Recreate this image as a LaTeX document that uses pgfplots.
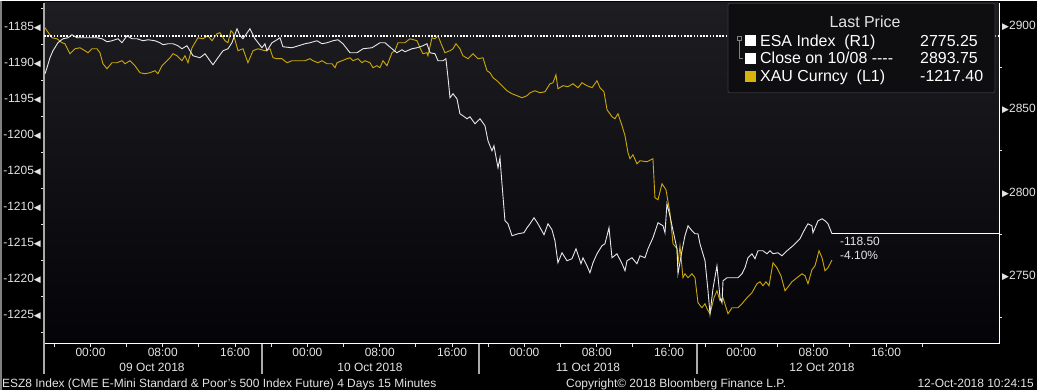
\documentclass[border=0pt]{standalone}
\usepackage{pgfplots}
\pgfplotsset{compat=1.18}
\usepackage{fontspec}
\setmainfont{Liberation Sans}
\newfontfamily\sym{DejaVu Sans}
\definecolor{gold}{RGB}{204,168,10}
\definecolor{goldsq}{RGB}{214,180,12}
\definecolor{esa}{RGB}{232,232,232}
\definecolor{bgtop}{RGB}{30,30,34}
\definecolor{bgbot}{RGB}{4,4,8}
\definecolor{txt}{RGB}{228,228,228}
\definecolor{legbg}{RGB}{14,14,17}
\definecolor{legline}{RGB}{55,55,60}
\definecolor{sep}{RGB}{170,170,170}
\newcommand{\ltri}{{\sym\fontsize{9}{9}\selectfont ◀}}
\newcommand{\rtri}{{\sym\fontsize{9}{9}\selectfont ▶}}
\begin{document}
\begin{tikzpicture}[font=\fontsize{12}{14}\selectfont]
\fill[black] (0,0) rectangle (1037bp,-389bp);
\draw[gray, line width=1.5bp] (0.75bp,0) -- (0.75bp,-389bp);
\begin{axis}[
  at={(44bp,-2bp)}, anchor=north west,
  scale only axis, width=955bp, height=341bp,
  xmin=-5.14, xmax=100.5, ymin=-1229.03, ymax=-1181.67,
  axis x line*=bottom, axis y line*=left,
  x axis line style={-, draw=white, line width=1bp},
  y axis line style={-, draw=sep, line width=1.6bp},
  axis background/.style={top color=bgtop, bottom color=bgbot},
  tick align=outside,
  major tick length=3bp, minor tick length=3bp,
  xtick={0,8,...,88},
  xticklabels={00:00,08:00,16:00,00:00,08:00,16:00,00:00,08:00,16:00,00:00,08:00,16:00},
  minor xtick={-4,4,...,92},
  major x tick style={draw=txt, line width=1bp},
  minor x tick style={draw=txt, line width=1bp},
  ytick={-1225,-1220,-1215,-1210,-1205,-1200,-1195,-1190,-1185},
  yticklabels={-1225\ltri,-1220\ltri,-1215\ltri,-1210\ltri,-1205\ltri,-1200\ltri,-1195\ltri,-1190\ltri,-1185\ltri},
  minor ytick={-1227.5,-1222.5,-1217.5,-1212.5,-1207.5,-1202.5,-1197.5,-1192.5,-1187.5,-1182.5},
  major y tick style={draw=none},
  minor y tick style={draw=txt, line width=1bp},
  xticklabel style={text=txt, anchor=north, inner sep=0pt, yshift=-1bp, font=\fontsize{12}{14}\selectfont},
  yticklabel style={text=txt, anchor=east, inner sep=0pt, font=\fontsize{12}{14}\selectfont},
  clip=true,
]
\addplot[gold, line width=0.9bp] coordinates {
(-5.03,-1185.14) (-4.81,-1185.56) (-4.26,-1186.53) (-3.71,-1186.67) (-3.15,-1187.22) (-2.82,-1187.36) (-2.27,-1188.75) (-1.71,-1188.06) (-1.16,-1187.92) (-0.61,-1188.33) (-0.28,-1188.61) (0.17,-1188.06) (0.72,-1188.06) (1.05,-1188.61) (1.38,-1190.14) (1.83,-1190.83) (2.38,-1190.00) (2.93,-1190.00) (3.48,-1189.72) (3.82,-1190.14) (4.37,-1189.72) (4.92,-1190.42) (5.48,-1191.39) (6.03,-1191.53) (6.58,-1191.39) (7.13,-1191.11) (7.47,-1191.53) (7.91,-1190.42) (8.24,-1190.00) (8.79,-1189.31) (9.13,-1188.75) (9.57,-1189.03) (10.12,-1189.72) (10.45,-1189.03) (10.79,-1190.00) (11.23,-1187.92) (11.89,-1186.53) (12.44,-1186.67) (13.00,-1186.25) (13.44,-1186.94) (14.00,-1185.97) (14.32,-1185.83) (14.88,-1186.94) (15.21,-1187.22) (15.54,-1185.56) (15.76,-1185.83) (16.32,-1188.33) (16.87,-1188.06) (17.42,-1190.00) (17.98,-1188.33) (18.53,-1188.06) (19.30,-1188.33) (19.86,-1188.06) (20.19,-1189.31) (20.63,-1189.44) (21.18,-1189.44) (21.74,-1190.00) (22.29,-1189.72) (22.95,-1189.72) (23.73,-1189.72) (24.28,-1189.44) (24.61,-1189.72) (25.17,-1190.00) (25.61,-1189.72) (26.16,-1190.14) (26.72,-1190.14) (27.05,-1190.69) (27.27,-1190.00) (27.82,-1189.72) (28.37,-1189.44) (28.71,-1189.31) (29.04,-1189.72) (29.59,-1189.44) (30.03,-1190.00) (30.36,-1189.72) (30.92,-1190.00) (31.25,-1190.69) (31.69,-1190.42) (32.02,-1190.69) (32.36,-1189.72) (32.80,-1190.42) (33.35,-1188.61) (33.68,-1188.33) (34.02,-1187.22) (34.79,-1187.22) (35.34,-1186.67) (36.12,-1186.94) (36.45,-1187.92) (36.78,-1188.75) (37.22,-1188.61) (37.33,-1189.03) (37.78,-1186.53) (38.11,-1186.67) (38.44,-1186.25) (38.88,-1187.64) (39.21,-1188.61) (39.77,-1188.33) (40.10,-1188.06) (40.43,-1187.36) (40.87,-1188.06) (41.20,-1189.03) (41.76,-1189.44) (42.31,-1188.75) (42.86,-1189.44) (43.42,-1189.31) (43.86,-1191.11) (44.19,-1191.39) (44.53,-1192.08) (44.97,-1192.50) (45.52,-1193.19) (46.07,-1193.89) (46.63,-1194.31) (47.18,-1194.58) (47.73,-1194.86) (48.29,-1194.58) (48.62,-1194.17) (49.17,-1193.89) (49.72,-1194.17) (50.28,-1194.03) (50.83,-1192.92) (51.16,-1192.78) (51.49,-1191.67) (51.71,-1193.61) (52.27,-1193.19) (52.82,-1193.33) (53.37,-1192.92) (53.93,-1193.47) (54.37,-1192.78) (54.92,-1193.19) (55.48,-1193.47) (56.03,-1192.50) (56.36,-1193.47) (56.80,-1194.03) (57.14,-1196.53) (57.69,-1197.50) (58.02,-1197.78) (58.35,-1197.08) (58.80,-1198.75) (59.13,-1200.14) (59.46,-1202.50) (59.68,-1203.33) (60.01,-1202.78) (60.45,-1204.03) (60.79,-1203.61) (61.56,-1203.75) (62.22,-1203.33) (62.44,-1208.75) (62.78,-1209.03) (63.22,-1206.81) (63.66,-1207.64) (64.10,-1210.83) (64.44,-1215.14) (64.88,-1215.83) (64.99,-1217.92) (65.21,-1215.42) (65.54,-1219.86) (65.76,-1219.31) (66.10,-1219.86) (66.54,-1219.31) (66.87,-1219.86) (67.20,-1223.33) (67.64,-1224.03) (67.98,-1223.47) (68.20,-1224.17) (68.53,-1224.86) (68.97,-1222.64) (69.30,-1221.67) (69.64,-1223.06) (69.97,-1222.64) (70.52,-1224.86) (70.96,-1224.03) (71.63,-1224.03) (72.07,-1223.47) (72.62,-1222.64) (73.17,-1221.94) (73.73,-1220.69) (74.06,-1220.42) (74.39,-1220.97) (74.72,-1220.42) (75.06,-1220.97) (75.50,-1217.78) (75.94,-1218.47) (76.38,-1219.58) (76.83,-1221.67) (77.60,-1220.42) (78.15,-1219.86) (78.71,-1219.31) (79.04,-1219.58) (79.37,-1220.69) (79.81,-1218.75) (80.15,-1218.19) (80.59,-1216.11) (80.92,-1217.08) (81.25,-1218.89) (81.58,-1218.47) (82.02,-1217.40)
};
\end{axis}
\begin{axis}[
  at={(44bp,-2bp)}, anchor=north west,
  scale only axis, width=955bp, height=341bp,
  xmin=-5.14, xmax=100.5, ymin=2709.2, ymax=2913.8,
  axis x line=none, axis y line*=right,
  y axis line style={-, draw=white, line width=1bp},
  tick align=outside,
  major tick length=3bp, minor tick length=3bp,
  ytick={2750,2800,2850,2900},
  yticklabels={\rtri2750,\rtri2800,\rtri2850,\rtri2900},
  minor ytick={2725,2775,2825,2875},
  major y tick style={draw=none},
  minor y tick style={draw=txt, line width=1bp},
  yticklabel style={text=txt, anchor=west, inner sep=0pt, font=\fontsize{12}{14}\selectfont},
  clip=true,
]
\addplot[white, line width=1.6bp, dash pattern=on 1.6bp off 1.6bp] coordinates {(-5.14,2893.75) (100.5,2893.75)};
\addplot[esa, line width=0.9bp] coordinates {
(-5.03,2871.2) (-4.81,2874.8) (-4.48,2880.8) (-4.15,2885.0) (-3.60,2889.8) (-3.04,2892.2) (-2.49,2892.8) (-2.05,2894.6) (-1.49,2892.8) (-0.06,2892.8) (0.72,2892.8) (1.27,2892.2) (1.83,2890.4) (2.38,2891.0) (3.04,2892.2) (3.48,2889.8) (4.04,2894.0) (4.59,2892.2) (5.14,2892.2) (5.81,2891.0) (6.36,2891.6) (7.13,2891.0) (7.69,2889.8) (8.02,2888.6) (8.57,2889.2) (9.13,2889.2) (9.68,2888.0) (10.12,2886.2) (10.67,2888.0) (11.01,2885.0) (11.34,2882.0) (12.11,2880.8) (12.67,2883.2) (13.22,2879.0) (13.55,2876.6) (14.10,2880.8) (14.66,2885.0) (15.21,2886.2) (15.65,2889.8) (16.21,2898.2) (16.54,2894.0) (16.87,2892.2) (17.64,2898.2) (18.20,2892.2) (18.97,2886.8) (19.30,2889.2) (19.52,2885.0) (20.08,2889.8) (20.63,2891.6) (20.96,2892.8) (21.29,2887.4) (22.29,2886.8) (23.73,2889.2) (24.28,2889.8) (25.06,2891.0) (25.61,2889.2) (26.16,2889.8) (26.83,2891.0) (27.38,2891.6) (27.93,2889.2) (28.71,2883.8) (29.48,2883.8) (30.14,2886.2) (31.14,2886.8) (32.02,2889.8) (32.58,2889.8) (33.35,2886.2) (33.90,2883.8) (34.46,2885.6) (34.79,2884.4) (35.56,2886.2) (36.12,2886.8) (36.78,2888.0) (37.22,2889.2) (37.56,2883.8) (38.11,2883.2) (38.44,2879.0) (38.99,2879.0) (39.32,2880.2) (39.55,2868.8) (39.77,2856.8) (40.10,2859.2) (40.54,2856.2) (40.87,2847.2) (41.20,2846.0) (41.65,2844.2) (41.98,2845.4) (42.53,2841.2) (43.09,2844.2) (43.64,2840.0) (43.97,2831.0) (44.41,2825.0) (44.63,2828.0) (45.08,2814.8) (45.30,2820.8) (45.52,2805.2) (45.85,2783.0) (46.18,2781.2) (46.63,2774.0) (47.29,2775.2) (47.95,2775.8) (48.29,2778.8) (48.62,2781.2) (49.06,2784.8) (49.50,2781.2) (50.17,2774.6) (50.61,2781.2) (51.05,2777.6) (51.38,2771.0) (51.71,2757.8) (52.16,2763.8) (52.71,2759.0) (53.26,2760.2) (53.71,2766.2) (54.26,2757.2) (54.48,2760.8) (54.92,2756.0) (55.25,2751.8) (55.59,2757.8) (56.03,2763.2) (56.58,2768.0) (56.91,2769.2) (57.36,2778.8) (57.69,2760.8) (58.24,2763.2) (58.80,2757.2) (59.13,2753.0) (59.35,2759.0) (59.90,2760.8) (60.45,2757.2) (60.79,2762.0) (61.34,2760.8) (61.67,2766.2) (62.22,2772.8) (62.78,2781.8) (63.33,2780.0) (63.55,2775.8) (63.77,2793.2) (64.10,2786.0) (64.44,2777.0) (64.88,2766.2) (64.99,2751.2) (65.43,2765.0) (65.76,2774.0) (66.10,2780.0) (66.54,2777.0) (66.87,2775.2) (67.20,2775.2) (67.42,2769.2) (67.98,2759.0) (68.31,2741.0) (68.53,2727.2) (68.86,2742.2) (69.30,2756.0) (69.64,2736.8) (69.86,2733.8) (69.97,2747.0) (70.41,2748.8) (71.63,2748.8) (72.07,2751.2) (72.40,2754.8) (72.73,2760.8) (73.17,2763.2) (73.51,2760.2) (73.84,2765.0) (74.39,2765.0) (74.83,2763.2) (75.17,2765.0) (75.50,2763.2) (76.05,2763.8) (76.49,2762.0) (77.05,2765.0) (77.71,2768.0) (78.48,2772.2) (79.04,2778.2) (79.37,2781.2) (79.81,2780.0) (79.92,2775.8) (80.48,2783.0) (80.92,2784.2) (81.25,2783.0) (81.58,2781.2) (82.02,2775.25)
};
\addplot[white, line width=0.9bp] coordinates {(82.02,2775.25) (100.5,2775.25)};
\end{axis}
% day separators
\foreach \xx in {44,262,479,697} \draw[sep, line width=1.6bp] (\xx bp,-343bp) -- (\xx bp,-373bp);
% date labels
\foreach \xx/\dd in {152/09 Oct 2018,370/10 Oct 2018,588/11 Oct 2018,822/12 Oct 2018}
  \node[text=txt, anchor=base, inner sep=0pt] at (\xx bp,-371bp) {\dd};
% footer
\node[text=txt, anchor=base west, inner sep=0pt] at (2bp,-387bp) {ESZ8 Index (CME E-Mini Standard \& Poor's 500 Index Future) 4 Days 15 Minutes};
\node[text=txt, anchor=base west, inner sep=0pt] at (566bp,-387bp) {Copyright© 2018 Bloomberg Finance L.P.};
\node[text=txt, anchor=base east, inner sep=0pt] at (1034bp,-387bp) {12-Oct-2018 10:24:15};
% annotations
\node[text=txt, anchor=west, inner sep=0pt] at (840bp,-241bp) {-118.50};
\node[text=txt, anchor=west, inner sep=0pt] at (840bp,-255bp) {-4.10\%};
% legend
\draw[fill=legbg, draw=legline, rounded corners=2bp, line width=0.8bp] (728bp,-2.5bp) rectangle (995bp,-92bp);
\begin{scope}[font=\fontsize{16}{18}\selectfont]
\node[text=txt, anchor=base, inner sep=0pt] at (865bp,-27bp) {Last Price};
\fill[white] (745bp,-34.5bp) rectangle (756bp,-45.5bp);
\fill[white] (745bp,-52bp) rectangle (756bp,-63bp);
\fill[goldsq] (745bp,-70bp) rectangle (756bp,-81bp);
\node[text=white, anchor=base west, inner sep=0pt] at (760bp,-45.5bp) {ESA Index\ \ (R1)};
\node[text=white, anchor=base west, inner sep=0pt] at (760bp,-63bp) {Close on 10/08 {-}{-}{-}{-}};
\node[text=white, anchor=base west, inner sep=0pt] at (760bp,-81bp) {XAU Curncy\ \ (L1)};
\node[text=white, anchor=base west, inner sep=0pt] at (920bp,-45.5bp) {2775.25};
\node[text=white, anchor=base west, inner sep=0pt] at (920bp,-63bp) {2893.75};
\node[text=white, anchor=base west, inner sep=0pt] at (920bp,-81bp) {-1217.40};
\end{scope}
\draw[gray, line width=0.7bp] (737bp,-36bp) rectangle (741bp,-40bp);
\draw[gray, line width=0.7bp] (739bp,-40bp) -- (739bp,-57.5bp) -- (743bp,-57.5bp);
\end{tikzpicture}
\end{document}
